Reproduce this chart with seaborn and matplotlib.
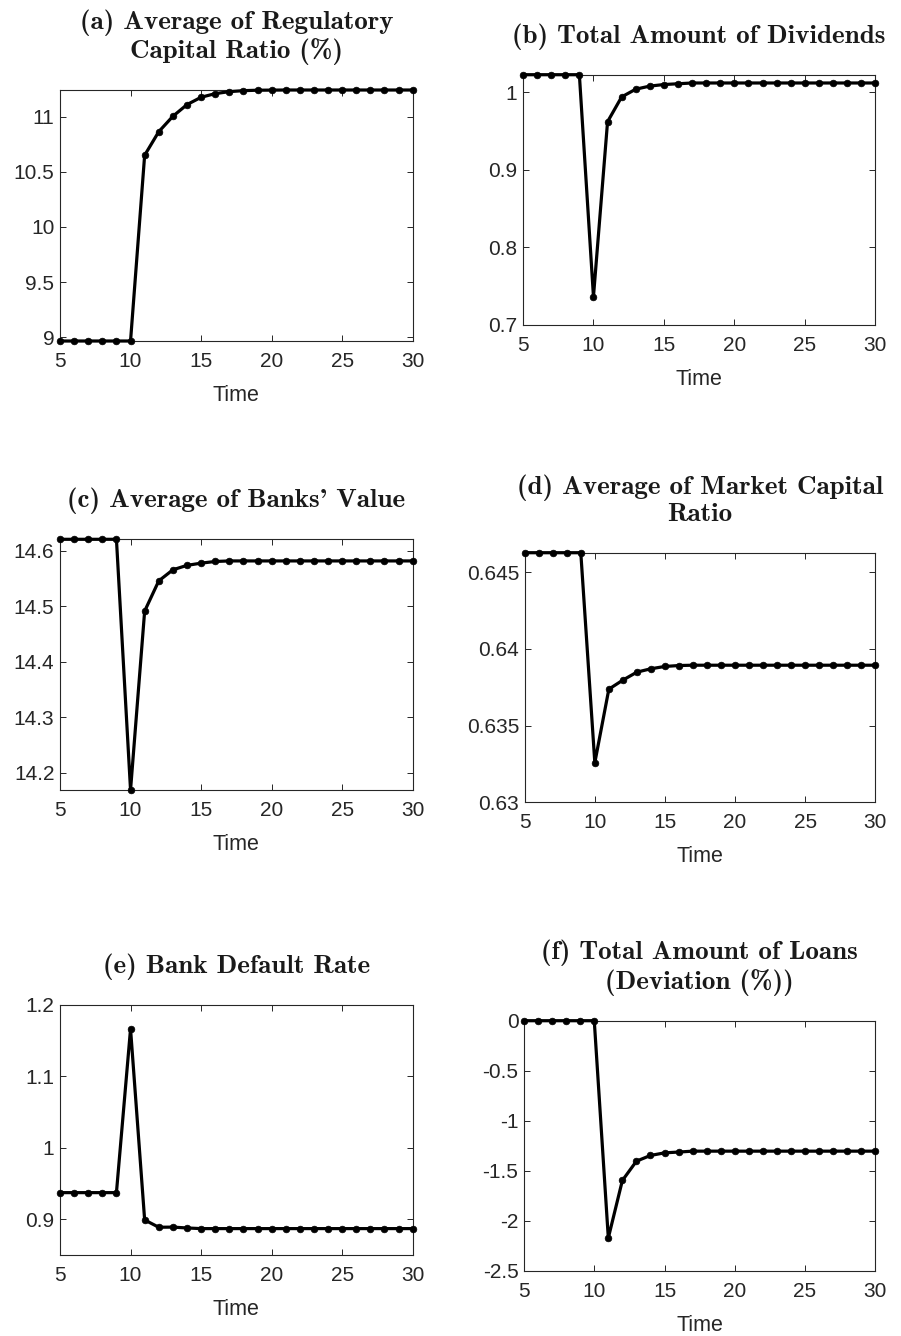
import numpy as np
import pandas as pd
import matplotlib
matplotlib.use("Agg")
import matplotlib.pyplot as plt
from matplotlib.ticker import FuncFormatter, MultipleLocator
import seaborn as sns

# Simulation horizon
time = list(range(5, 31))

# (a) Average regulatory capital ratio (%)
reg_capital_ratio = [8.964] * 6 + [10.652, 10.866, 11.006, 11.112, 11.179, 11.212,
                                   11.230, 11.239, 11.243, 11.244] + [11.245] * 10
# (b) Total amount of dividends
dividends = [1.0227] * 5 + [0.7362, 0.962, 0.994, 1.004, 1.008, 1.010, 1.011] + [1.012] * 14
# (c) Average of banks' value
bank_value = [14.621] * 5 + [14.169, 14.4915, 14.546, 14.566, 14.574, 14.578, 14.581] + [14.582] * 14
# (d) Average market capital ratio
market_capital_ratio = [0.64626] * 5 + [0.63258, 0.63737, 0.63796, 0.63848, 0.63870,
                                        0.63885, 0.63891] + [0.63893] * 14
# (e) Bank default rate
default_rate = [0.9372] * 5 + [1.1662, 0.899, 0.8888, 0.889, 0.8878] + [0.8869] * 16
# (f) Total amount of loans, deviation (%)
loans_dev = [0.0] * 6 + [-2.17, -1.596, -1.403, -1.346, -1.320, -1.312] + [-1.303] * 14

# cmb10 uses TeX text encoding: the ASCII quote is drawn as a closing quote
titles = [
    "(a) Average of Regulatory\nCapital Ratio (%)",
    "(b) Total Amount of Dividends",
    "(c) Average of Banks' Value",
    "(d) Average of Market Capital\nRatio",
    "(e) Bank Default Rate",
    "(f) Total Amount of Loans\n(Deviation (%))",
]
series = [reg_capital_ratio, dividends, bank_value, market_capital_ratio, default_rate, loans_dev]
y_limits = [
    (min(reg_capital_ratio), max(reg_capital_ratio)),
    (0.7, max(dividends)),
    (min(bank_value), max(bank_value)),
    (0.63, max(market_capital_ratio)),
    (0.85, 1.2),
    (-2.5, 0.0),
]
y_steps = [0.5, 0.1, 0.1, 0.005, 0.1, 0.5]

sns.set_theme(style="white")
plt.rcParams["font.family"] = ["Liberation Sans", "DejaVu Sans"]

W, H = 901, 1336
fig = plt.figure(figsize=(W / 100, H / 100), dpi=100)

# axes boxes in pixels: left, right, top, bottom
boxes = [
    (60, 412.7, 90, 341),
    (523, 875.3, 74.7, 324.7),
    (60, 412.7, 539.3, 790),
    (524.7, 875.3, 552.7, 802.3),
    (60, 412.7, 1004.7, 1255),
    (524, 875.3, 1020.7, 1271),
]

ink = "#262626"
fmt = FuncFormatter(lambda v, p: ("%g" % round(v, 6)))

for title, vals, ylim, step, (l, r, t, b) in zip(titles, series, y_limits, y_steps, boxes):
    ax = fig.add_axes([l / W, 1 - b / H, (r - l) / W, (b - t) / H])
    df = pd.DataFrame({"Time": time, "value": vals})
    sns.lineplot(data=df, x="Time", y="value", ax=ax, color="black", linewidth=2.3,
                 marker="o", markersize=4.8, markeredgecolor="black",
                 markeredgewidth=0.5, clip_on=False, zorder=5)
    ax.set_xlim(5, 30)
    ax.set_ylim(*ylim)
    ax.xaxis.set_major_locator(MultipleLocator(5))
    ax.yaxis.set_major_locator(MultipleLocator(step))
    ax.yaxis.set_major_formatter(fmt)
    ax.tick_params(axis="both", which="major", direction="in", length=4.5, width=0.7,
                   color=ink, labelcolor=ink, labelsize=15, top=True, right=True,
                   bottom=True, left=True)
    ax.tick_params(axis="x", pad=8)
    ax.tick_params(axis="y", pad=4)
    for sp in ax.spines.values():
        sp.set_color(ink)
        sp.set_linewidth(0.8)
        sp.set_visible(True)
    ax.set_xlabel("Time", fontsize=15.5, color=ink, labelpad=10)
    ax.set_ylabel("")
    ax.set_title(title, family="cmb10", fontsize=19.5, color="#1a1a1a", pad=23,
                 linespacing=1.12)

fig.savefig("out.png", dpi=100)
